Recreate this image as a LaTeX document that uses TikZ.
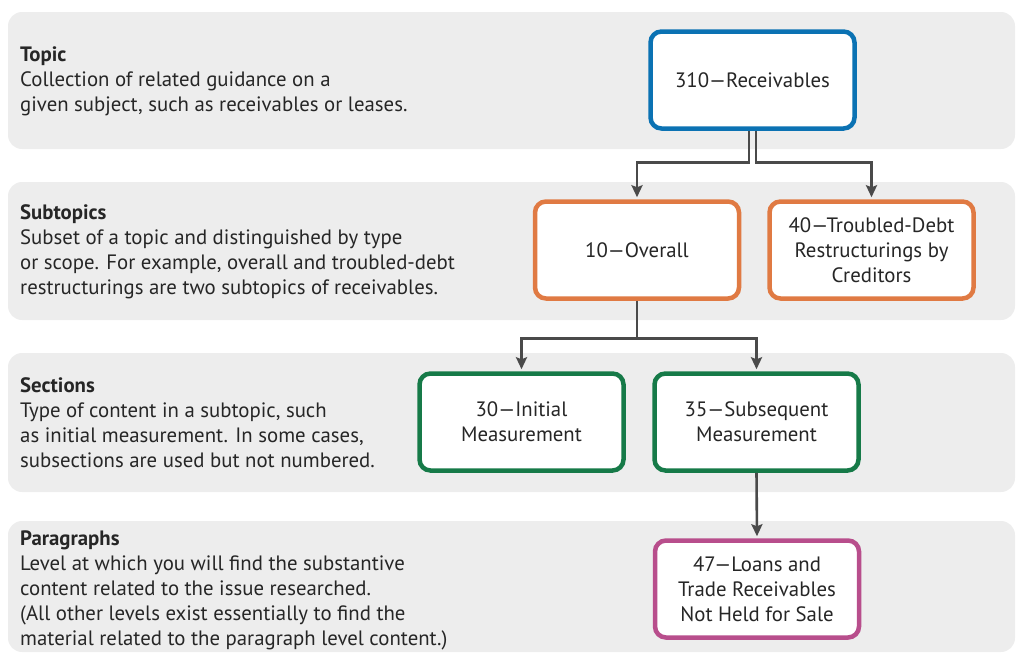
\documentclass[tikz,border=0pt]{standalone}
\usepackage{fontspec}
\setmainfont{PT Sans}
\usetikzlibrary{arrows.meta}
\definecolor{band}{HTML}{EDEDED}
\definecolor{txt}{HTML}{262626}
\definecolor{cblue}{HTML}{0B72B3}
\definecolor{corange}{HTML}{E07A43}
\definecolor{cgreen}{HTML}{167A48}
\definecolor{cmag}{HTML}{B84E8C}
\definecolor{conncol}{HTML}{4A4A4A}
\tikzset{
  bandbg/.style={fill=band, rounded corners=14pt},
  desc/.style={anchor=west, align=left, inner sep=0pt, text=txt, font=\fontsize{20.8}{25}\selectfont},
  box/.style={draw, fill=white, line width=4.5pt, rounded corners=11pt, minimum width=204pt, minimum height=97pt, align=center, text=txt, inner sep=0pt, font=\fontsize{20.8}{25}\selectfont},
  conn/.style={draw=conncol, line width=2.6pt, -{Stealth[length=12pt,width=11pt,inset=2pt]}, shorten >=2pt}
}
\begin{document}
\begin{tikzpicture}[x=1pt,y=-1pt]
\useasboundingbox (0,0) rectangle (1016,653);
% bands
\fill[bandbg] (8,12) rectangle (1015,149);
\fill[bandbg] (8,182) rectangle (1015,320);
\fill[bandbg] (8,353) rectangle (1015,492);
\fill[bandbg] (8,521) rectangle (1015,652);
% descriptions
\node[desc] (dtopic) at (20,81) {\textbf{Topic}\\Collection of related guidance on a\\given subject, such as receivables or leases.};
\node[desc] (dsub) at (20,252) {\textbf{Subtopics}\\Subset of a topic and distinguished by type\\or scope. For example, overall and troubled-debt\\restructurings are two subtopics of receivables.};
\node[desc] (dsec) at (20,423) {\textbf{Sections}\\Type of content in a subtopic, such\\as initial measurement. In some cases,\\subsections are used but not numbered.};
\node[desc] (dpar) at (20,590) {\textbf{Paragraphs}\\Level at which you will find the substantive\\content related to the issue researched.\\(All other levels exist essentially to find the\\material related to the paragraph level content.)};
% boxes
\node[box, draw=cblue] (r310) at (752.5,80) {310—Receivables};
\node[box, draw=corange] (o10) at (637,250) {10—Overall};
\node[box, draw=corange] (t40) at (871.5,250) {40—Troubled-Debt\\Restructurings by\\Creditors};
\node[box, draw=cgreen] (s30) at (521.5,422) {30—Initial\\Measurement};
\node[box, draw=cgreen] (s35) at (756.5,422) {35—Subsequent\\Measurement};
\node[box, draw=cmag] (p47) at (757,589) {47—Loans and\\Trade Receivables\\Not Held for Sale};
% connectors
\draw[conn] ([xshift=-3.5pt]r310.south) -- ++(0,32) -| (o10.north);
\draw[conn] ([xshift=3.5pt]r310.south) -- ++(0,32) -| (t40.north);
\draw[conn] (o10.south) -- ++(0,38) -| (s30.north);
\draw[conn] (o10.south) -- ++(0,38) -| (s35.north);
\draw[conn] (s35.south) -- (p47.north);
\end{tikzpicture}
\end{document}
